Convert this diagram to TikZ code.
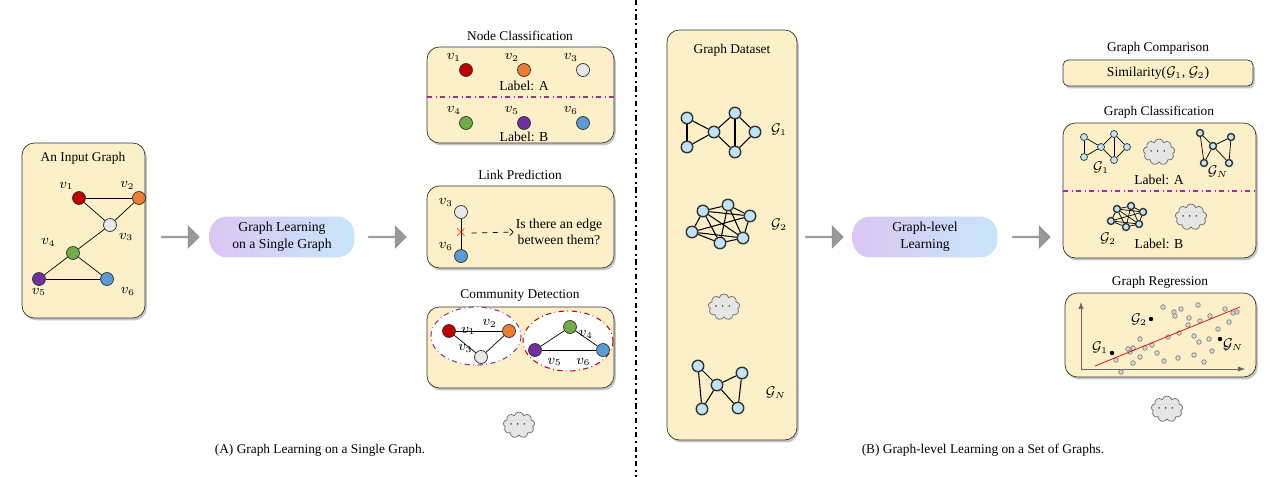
\documentclass[tikz,border=0pt]{standalone}
\usepackage{amsmath}
\usepackage{fontspec}
\setmainfont{Liberation Serif}
\usepackage{tikz}
\usetikzlibrary{arrows,arrows.meta,positioning,shadows,shapes.symbols,shapes.arrows}

\begin{document}
\begin{tikzpicture}[x=0.02cm,y=-0.02cm,thin,
  panel/.style={draw=black!80,fill=cream,rounded corners=7pt,drop shadow={shadow xshift=1pt,shadow yshift=-1.4pt,opacity=.45}},
  ttl/.style={font=\fontsize{7.6}{9}\selectfont},
  lbl/.style={font=\fontsize{7.8}{9}\selectfont,inner sep=1pt},
  vx/.style={circle,draw=black!80,minimum size=0.26cm,inner sep=0pt},
  gv/.style={circle,draw=black!80,fill=nodeblue,minimum size=0.23cm,inner sep=0pt,thick},
  sv/.style={circle,draw=black!80,fill=nodeblue,minimum size=0.14cm,inner sep=0pt},
  pill/.style={rounded corners=10pt,left color=lav,right color=sky,minimum width=2.9cm,minimum height=0.8cm,align=center,font=\fontsize{7.8}{9.5}\selectfont},
  bigarrow/.style={single arrow,fill=black!40,draw=black!45,minimum height=0.75cm,minimum width=0.44cm,single arrow head extend=0.1cm,inner sep=0pt},
  puff/.style={cloud,cloud puffs=9,aspect=1.4,draw=black!60,fill=black!10,minimum width=0.48cm,minimum height=0.34cm,inner sep=0pt,font=\scriptsize},
  sep/.style={draw=violet!80,dash dot,semithick}]
\definecolor{cream}{HTML}{FDF0C8} \definecolor{nodeblue}{HTML}{BFE4F8}
\definecolor{lav}{HTML}{DCC6F2} \definecolor{sky}{HTML}{C6E6FA}
\definecolor{cA}{HTML}{C00000} \definecolor{cB}{HTML}{ED7D31}
\definecolor{cC}{HTML}{E8E8E8} \definecolor{cD}{HTML}{70AD47}
\definecolor{cE}{HTML}{7030A0} \definecolor{cF}{HTML}{5B9BD5}
\useasboundingbox (0,0) rectangle (1272,477);

% left half
\draw[panel] (22,143) rectangle (145,318);
\node[ttl] (inT) at (83,158) {An Input Graph};
\node[vx,fill=cA,label={[lbl]120:$v_1$}] (i1) at (79,198) {};
\node[vx,fill=cB,label={[lbl]110:$v_2$}] (i2) at (139,198) {};
\node[vx,fill=cC,label={[lbl,xshift=2pt]-60:$v_3$}] (i3) at (110,225) {};
\node[vx,fill=cD,label={[lbl,xshift=-6pt]135:$v_4$}] (i4) at (73,253) {};
\node[vx,fill=cE,label={[lbl]-90:$v_5$}] (i5) at (39,279) {};
\node[vx,fill=cF,label={[lbl,xshift=6pt]-80:$v_6$}] (i6) at (107,279) {};
\foreach \a/\b in {1/2,1/3,2/3,3/4,4/5,4/6,5/6}
  \draw (i\a) -- (i\b);
\node[bigarrow] (arA) at (180,237) {};
\node[pill] (learnA) at (282,237) {Graph Learning\\on a Single Graph};
\node[bigarrow] (arB) at (387,237) {};

% node classification
\node[ttl] (ncT) at (520,36) {Node Classification};
\draw[panel] (427,47) rectangle (614,143);
\draw[sep] (427,97) -- (614,97);
\foreach \n/\x/\y/\c in {1/466/70/cA,2/524/70/cB,3/583/70/cC,4/466/123/cD,5/524/123/cE,6/583/123/cF}
  \node[vx,fill=\c,label={[lbl]115:$v_\n$}] (nc\n) at (\x,\y) {};
\node[lbl] (labA) at (524,86) {Label: A};
\node[lbl] (labB) at (524,137) {Label: B};

% link prediction
\node[ttl] (lpT) at (520,175) {Link Prediction};
\draw[panel] (427,186) rectangle (614,268);
\node[vx,fill=cC,label={[lbl]150:$v_3$}] (l3) at (461,212) {};
\node[vx,fill=cF,label={[lbl]150:$v_6$}] (l6) at (461,256) {};
\draw (l3) -- (l6);
\node[text=red,inner sep=0pt,font=\bfseries\small] (cut) at (461,233) {$\times$};
\node[lbl,align=center] (ask) at (559,232) {Is there an edge\\between them?};
\draw[dashed,-{Straight Barb[length=2pt]}] (cut.east) ++(4,0) coordinate (cutR) (cutR) -- (ask.west);

% community detection
\node[ttl] (cdT) at (520,296) {Community Detection};
\draw[panel] (427,307) rectangle (614,388);
\draw[fill=white,draw=violet!80,dash dot,semithick] (476,336) ellipse (45 and 29);
\draw[fill=white,draw=red!80!black,dash dot,semithick] (568,341) ellipse (45 and 30);
\node[vx,fill=cA,label={[lbl,xshift=2pt]0:$v_1$}] (c1) at (449,331) {};
\node[vx,fill=cB,label={[lbl,xshift=-2pt]170:$v_2$}] (c2) at (509,331) {};
\node[vx,fill=cC,label={[lbl]160:$v_3$}] (c3) at (481,357) {};
\node[vx,fill=cD,label={[lbl]-10:$v_4$}] (c4) at (570,327) {};
\node[vx,fill=cE,label={[lbl,xshift=4pt]-60:$v_5$}] (c5) at (535,350) {};
\node[vx,fill=cF,label={[lbl,xshift=-4pt]-120:$v_6$}] (c6) at (603,350) {};
\foreach \a/\b in {1/2,1/3,2/3,4/5,4/6,5/6}
  \draw (c\a) -- (c\b);
\node[puff] (moreA) at (519,425) {$\cdots$};
\node[ttl] (capA) at (320,450) {(A) Graph Learning on a Single Graph.};

\draw[very thick,dash dot] (636,0) coordinate (top) -- (636,477) coordinate (bot);

% right half
\draw[panel] (667,30) rectangle (797,440);
\node[ttl] (gdT) at (732,50) {Graph Dataset};
\foreach \n/\x/\y in {1/687/118,2/687/147,3/714/132,4/735/113,5/735/152,6/755/132}
  \node[gv] (a\n) at (\x,\y) {};
\foreach \a/\b in {1/2,1/3,2/3,3/4,3/5,4/5,4/6,5/6}
  \draw[semithick] (a\a) -- (a\b);
\node[lbl] (aT) at (779,130) {$\mathcal{G}_1$};
\foreach \n/\x/\y in {1/703/211,2/728/205,3/750/216,4/743/238,5/720/243,6/692/232}
  \node[gv] (b\n) at (\x,\y) {};
\foreach \a/\b in {1/2,2/3,3/4,4/5,5/6,6/1,1/3,1/4,2/5,2/4,6/3,6/4,1/5}
  \draw[semithick] (b\a) -- (b\b);
\node[lbl] (bT) at (779,225) {$\mathcal{G}_2$};
\node[puff] (moreD) at (724,307) {$\cdots$};
\foreach \n/\x/\y in {1/698/366,2/717/385,3/742/373,4/702/409,5/738/408}
  \node[gv] (n\n) at (\x,\y) {};
\foreach \a/\b in {1/2,1/4,2/3,2/4,2/5,3/5}
  \draw[semithick] (n\a) -- (n\b);
\node[lbl] (nT) at (776,393) {$\mathcal{G}_N$};

\node[bigarrow] (arC) at (824,237) {};
\node[pill] (learnB) at (925,237) {Graph-level\\Learning};
\node[bigarrow] (arD) at (1031,237) {};

% graph comparison
\node[ttl] (gcT) at (1158,48) {Graph Comparison};
\draw[panel,rounded corners=3pt] (1063,60) rectangle (1253,86);
\node[lbl] (sim) at (1158,73) {Similarity($\mathcal{G}_1$, $\mathcal{G}_2$)};

% graph classification
\node[ttl] (clT) at (1159,112) {Graph Classification};
\draw[panel] (1063,123) rectangle (1256,258);
\draw[sep] (1063,191) -- (1256,191);
\foreach \n/\x/\y in {1/1084/137,2/1084/157,3/1101/147,4/1114/134,5/1114/160,6/1127/147}
  \node[sv] (s\n) at (\x,\y) {};
\foreach \a/\b in {1/2,1/3,2/3,3/4,3/5,4/5,4/6,5/6}
  \draw (s\a) -- (s\b);
\node[lbl] (sT) at (1101,168) {$\mathcal{G}_1$};
\node[puff] (moreE) at (1159,152) {$\cdots$};
\foreach \n/\x/\y in {1/1200/133,2/1213/146,3/1231/137,4/1204/163,5/1229/163}
  \node[sv,thick] (t\n) at (\x,\y) {};
\foreach \a/\b in {1/2,1/4,2/3,2/4,2/5,3/5}
  \draw (t\a) -- (t\b);
\node[lbl] (tT) at (1218,172) {$\mathcal{G}_N$};
\node[lbl] (clA) at (1159,180) {Label: A};
\foreach \n/\x/\y in {1/1117/209,2/1131/206,3/1143/212,4/1139/224,5/1126/227,6/1111/221}
  \node[sv,thick] (u\n) at (\x,\y) {};
\foreach \a/\b in {1/2,2/3,3/4,4/5,5/6,6/1,1/3,1/4,2/5,2/4,6/3,6/4,1/5}
  \draw (u\a) -- (u\b);
\node[lbl] (uT) at (1108,239) {$\mathcal{G}_2$};
\node[puff] (moreF) at (1191,217) {$\cdots$};
\node[lbl] (clB) at (1159,244) {Label: B};

% graph regression
\node[ttl] (rgT) at (1160,282) {Graph Regression};
\draw[panel] (1065,293) rectangle (1256,377);
\coordinate (o) at (1081,369);
\coordinate (yT) at (1081,302);
\coordinate (xT) at (1245,369);
\draw[-{Latex[length=4pt]},draw=black!60] (o) -- (yT);
\draw[-{Latex[length=4pt]},draw=black!60] (o) -- (xT);
\foreach \x/\y [count=\i] in {1163/307,1174/312,1181/309,1198/305,1189/318,1200/321,1210/316,1225/309,1233/313,1229/322,1218/329,1194/336,1179/333,1168/337,1152/345,1140/339,1145/348,1157/353,1164/361,1178/358,1194/355,1199/342,1204/362,1212/351,1226/348,1237/312,1209/339,1130/352,1128/349,1133/363,1140/357,1116/360,1175/316,1188/325,1133/348,1121/372}
  \node[circle,draw=black!50,fill=black!15,minimum size=2.6pt,inner sep=0pt] (p\i) at (\x,\y) {};
\coordinate (fitA) at (1095,366);
\coordinate (fitB) at (1240,307);
\draw[red!90!black] (fitA) -- (fitB);
\node[circle,fill=black,minimum size=2.5pt,inner sep=0pt] (r1) at (1112,353) {};
\node[lbl,anchor=east] (r1T) at (1110,348) {$\mathcal{G}_1$};
\node[circle,fill=black,minimum size=2.5pt,inner sep=0pt] (r2) at (1151,319) {};
\node[lbl,anchor=east] (r2T) at (1149,320) {$\mathcal{G}_2$};
\node[circle,fill=black,minimum size=2.5pt,inner sep=0pt] (r3) at (1220,339) {};
\node[lbl,anchor=west] (r3T) at (1221,345) {$\mathcal{G}_N$};
\node[puff] (moreG) at (1167,409) {$\cdots$};
\node[ttl] (capB) at (983,450) {(B) Graph-level Learning on a Set of Graphs.};
\end{tikzpicture}
\end{document}
